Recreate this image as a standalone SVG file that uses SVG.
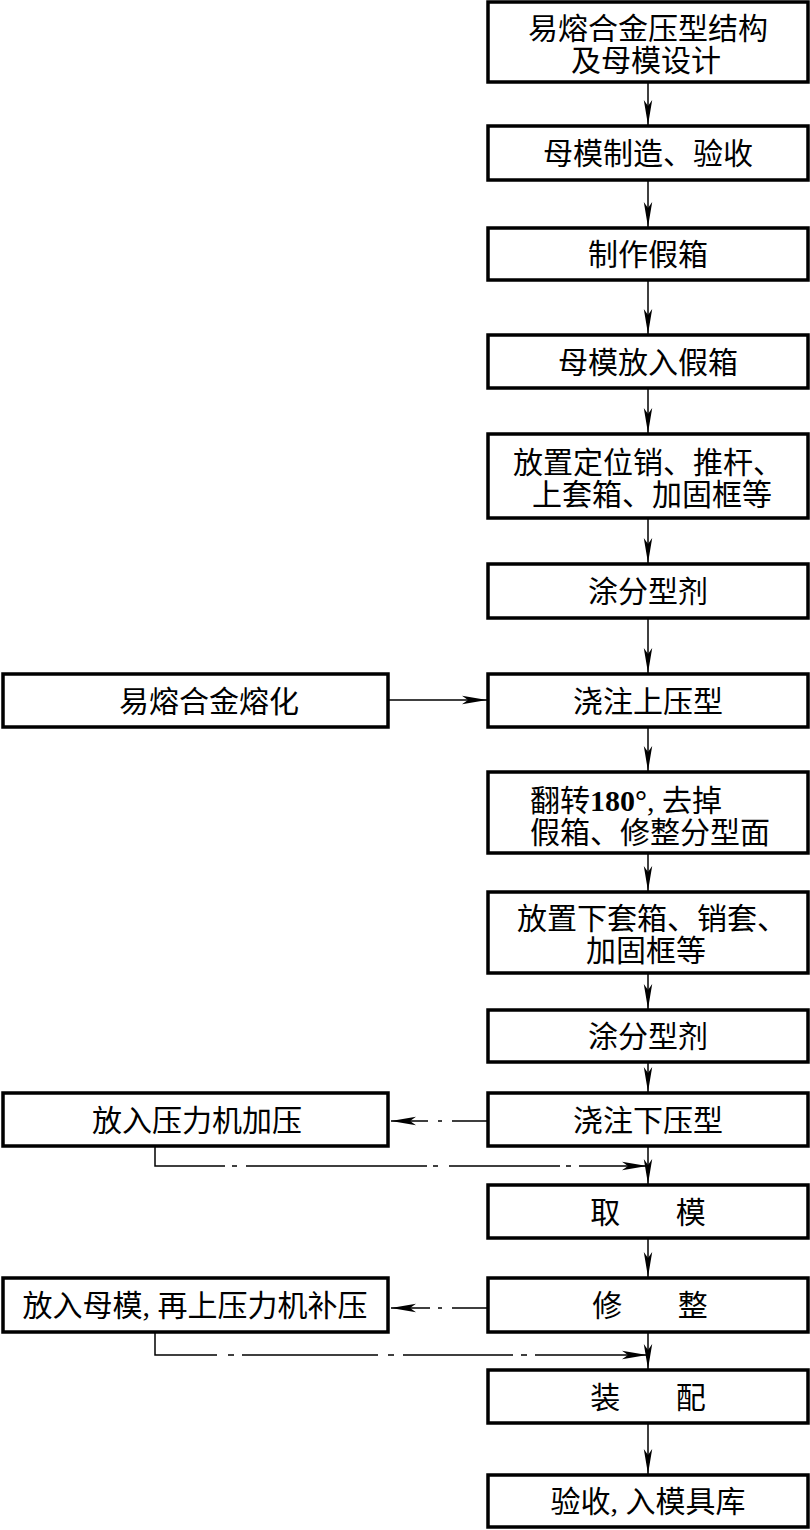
<svg xmlns="http://www.w3.org/2000/svg" width="810" height="1530" viewBox="0 0 810 1530">
<style>
.box{fill:#fff;stroke:#000;stroke-width:3.5}
.t{font-family:"Liberation Serif","Noto Sans CJK SC",serif;font-size:30px;fill:#000;text-anchor:middle}
.ts{text-anchor:start}
.c{fill:none;stroke:#000;stroke-width:1.5}
</style>
<defs>
<marker id="ah" markerWidth="26" markerHeight="10" refX="25" refY="5" orient="auto" markerUnits="userSpaceOnUse"><path d="M0,0.8 L25,5 L0,9.2 L6,5 z" fill="#000"/></marker>
</defs>
<rect width="810" height="1530" fill="#fff"/>
<g id="connectors">
<path class="c" marker-end="url(#ah)" d="M648,82 V125"/>
<path class="c" marker-end="url(#ah)" d="M648,180 V227"/>
<path class="c" marker-end="url(#ah)" d="M648,280 V334"/>
<path class="c" marker-end="url(#ah)" d="M648,388 V433"/>
<path class="c" marker-end="url(#ah)" d="M648,518 V563"/>
<path class="c" marker-end="url(#ah)" d="M648,618 V673"/>
<path class="c" marker-end="url(#ah)" d="M648,727 V771"/>
<path class="c" marker-end="url(#ah)" d="M648,853 V891"/>
<path class="c" marker-end="url(#ah)" d="M648,973 V1009"/>
<path class="c" marker-end="url(#ah)" d="M648,1062 V1092"/>
<path class="c" marker-end="url(#ah)" d="M648,1146 V1184"/>
<path class="c" marker-end="url(#ah)" d="M648,1238 V1277"/>
<path class="c" marker-end="url(#ah)" d="M648,1332 V1369"/>
<path class="c" marker-end="url(#ah)" d="M648,1423 V1474"/>
<path class="c" marker-end="url(#ah)" d="M388,700 H487"/>
<path class="c" marker-end="url(#ah)" d="M487,1121 H452 M442,1121 H438 M428,1121 H391"/>
<path class="c" marker-end="url(#ah)" d="M155,1146 V1166 H225 M232,1166 H237 M246,1166 H427 M433,1166 H438 M449,1166 H560 M566,1166 H571 M579,1166 H647"/>
<path class="c" marker-end="url(#ah)" d="M487,1308 H452 M442,1308 H438 M430,1308 H391"/>
<path class="c" marker-end="url(#ah)" d="M155,1332 V1355 H217 M228,1355 H234 M242,1355 H378 M388,1355 H394 M403,1355 H513 M521,1355 H527 M535,1355 H647"/>
</g>
<g id="n1"><rect class="box" x="488" y="2" width="320" height="80"/><text class="t" x="648" y="39">易熔合金压型结构</text><text class="t" x="646" y="71">及母模设计</text></g>
<g id="n2"><rect class="box" x="488" y="126" width="320" height="54"/><text class="t" x="648" y="164">母模制造、验收</text></g>
<g id="n3"><rect class="box" x="488" y="228" width="320" height="52"/><text class="t" x="648" y="265">制作假箱</text></g>
<g id="n4"><rect class="box" x="488" y="335" width="320" height="53"/><text class="t" x="648" y="373">母模放入假箱</text></g>
<g id="n5"><rect class="box" x="488" y="434" width="320" height="84"/><text class="t" x="648" y="473">放置定位销、推杆、</text><text class="t" x="652" y="505">上套箱、加固框等</text></g>
<g id="n6"><rect class="box" x="488" y="564" width="320" height="54"/><text class="t" x="648" y="602">涂分型剂</text></g>
<g id="n7"><rect class="box" x="488" y="674" width="320" height="53"/><text class="t" x="648" y="712">浇注上压型</text></g>
<g id="n7b"><rect class="box" x="3" y="674" width="385" height="53"/><text class="t" x="209" y="712">易熔合金熔化</text></g>
<g id="n8"><rect class="box" x="488" y="772" width="320" height="81"/><text class="t ts" x="530" y="811">翻转<tspan font-weight="bold">180°</tspan>, 去掉</text><text class="t" x="650" y="843">假箱、修整分型面</text></g>
<g id="n9"><rect class="box" x="488" y="892" width="320" height="81"/><text class="t" x="652" y="929">放置下套箱、销套、</text><text class="t" x="646" y="961">加固框等</text></g>
<g id="n10"><rect class="box" x="488" y="1010" width="320" height="52"/><text class="t" x="648" y="1047">涂分型剂</text></g>
<g id="n11"><rect class="box" x="488" y="1093" width="320" height="53"/><text class="t" x="648" y="1131">浇注下压型</text></g>
<g id="n11b"><rect class="box" x="3" y="1093" width="385" height="53"/><text class="t" x="197" y="1131">放入压力机加压</text></g>
<g id="n12"><rect class="box" x="488" y="1185" width="320" height="53"/><text class="t" x="648" y="1223" word-spacing="48">取 模</text></g>
<g id="n13"><rect class="box" x="488" y="1278" width="320" height="54"/><text class="t" x="650" y="1316" word-spacing="48">修 整</text></g>
<g id="n13b"><rect class="box" x="3" y="1278" width="385" height="54"/><text class="t" x="195" y="1316">放入母模, 再上压力机补压</text></g>
<g id="n14"><rect class="box" x="488" y="1370" width="320" height="53"/><text class="t" x="648" y="1408" word-spacing="48">装 配</text></g>
<g id="n15"><rect class="box" x="488" y="1475" width="320" height="52"/><text class="t" x="648" y="1512">验收, 入模具库</text></g>
</svg>
